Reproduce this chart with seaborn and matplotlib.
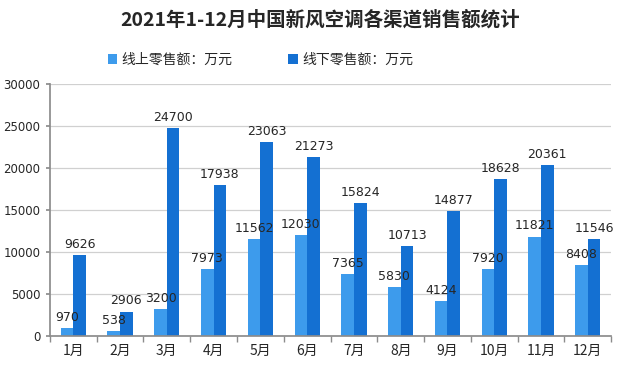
import numpy as np
import pandas as pd
import seaborn as sns
import matplotlib.pyplot as plt
from matplotlib.ticker import FixedLocator

months = ['1月', '2月', '3月', '4月', '5月', '6月', '7月', '8月', '9月', '10月', '11月', '12月']
online = [970, 538, 3200, 7973, 11562, 12030, 7365, 5830, 4124, 7920, 11821, 8408]
offline = [9626, 2906, 24700, 17938, 23063, 21273, 15824, 10713, 14877, 18628, 20361, 11546]
series = ['线上零售额：万元', '线下零售额：万元']
colors = ['#3d9bec', '#1470d2']

df = pd.DataFrame({
    'month': months * 2,
    'value': online + offline,
    'series': [series[0]] * len(months) + [series[1]] * len(months),
})

sns.set_theme(style='white')
plt.rcParams['font.family'] = ['Noto Sans CJK SC', 'DejaVu Sans']

fig = plt.figure(figsize=(6.4, 3.68), dpi=100)
ax = fig.add_axes([0.078, 0.087, 0.877, 0.685])

sns.barplot(data=df, x='month', y='value', hue='series', palette=colors,
            width=0.54, gap=0, saturation=1, linewidth=0, ax=ax, legend=True)

for cont in ax.containers:
    ax.bar_label(cont, fmt='%d', padding=3, fontsize=9, family=['DejaVu Sans'])

ax.set_ylim(0, 30000)
ax.set_yticks(range(0, 30001, 5000))
ax.set_xlim(-0.5, 11.5)
ax.set_xlabel('')
ax.set_ylabel('')
ax.yaxis.grid(True, color='#d0d0d0', linewidth=0.9)
ax.set_axisbelow(True)
for s in ['top', 'right']:
    ax.spines[s].set_visible(False)
for s in ['left', 'bottom']:
    ax.spines[s].set_color('#8c8c8c')
ax.tick_params(axis='x', which='major', length=0, labelsize=10, pad=6)
ax.xaxis.set_minor_locator(FixedLocator(np.arange(-0.5, 12, 1)))
ax.tick_params(axis='x', which='minor', length=4, color='#8c8c8c', bottom=True)
ax.tick_params(axis='y', length=3, color='#8c8c8c', left=True, labelsize=8.5, pad=4)
for lab in ax.get_yticklabels():
    lab.set_family(['DejaVu Sans'])

ax.legend(loc='center', bbox_to_anchor=(0.375, 1.095), ncol=2, frameon=False,
          fontsize=10, handlelength=0.7, handleheight=0.7, handletextpad=0.3,
          columnspacing=4)
fig.text(0.5, 0.945, '2021年1-12月中国新风空调各渠道销售额统计', ha='center', va='center',
         fontsize=14, fontweight='bold')

fig.savefig('out.png', dpi=100)
